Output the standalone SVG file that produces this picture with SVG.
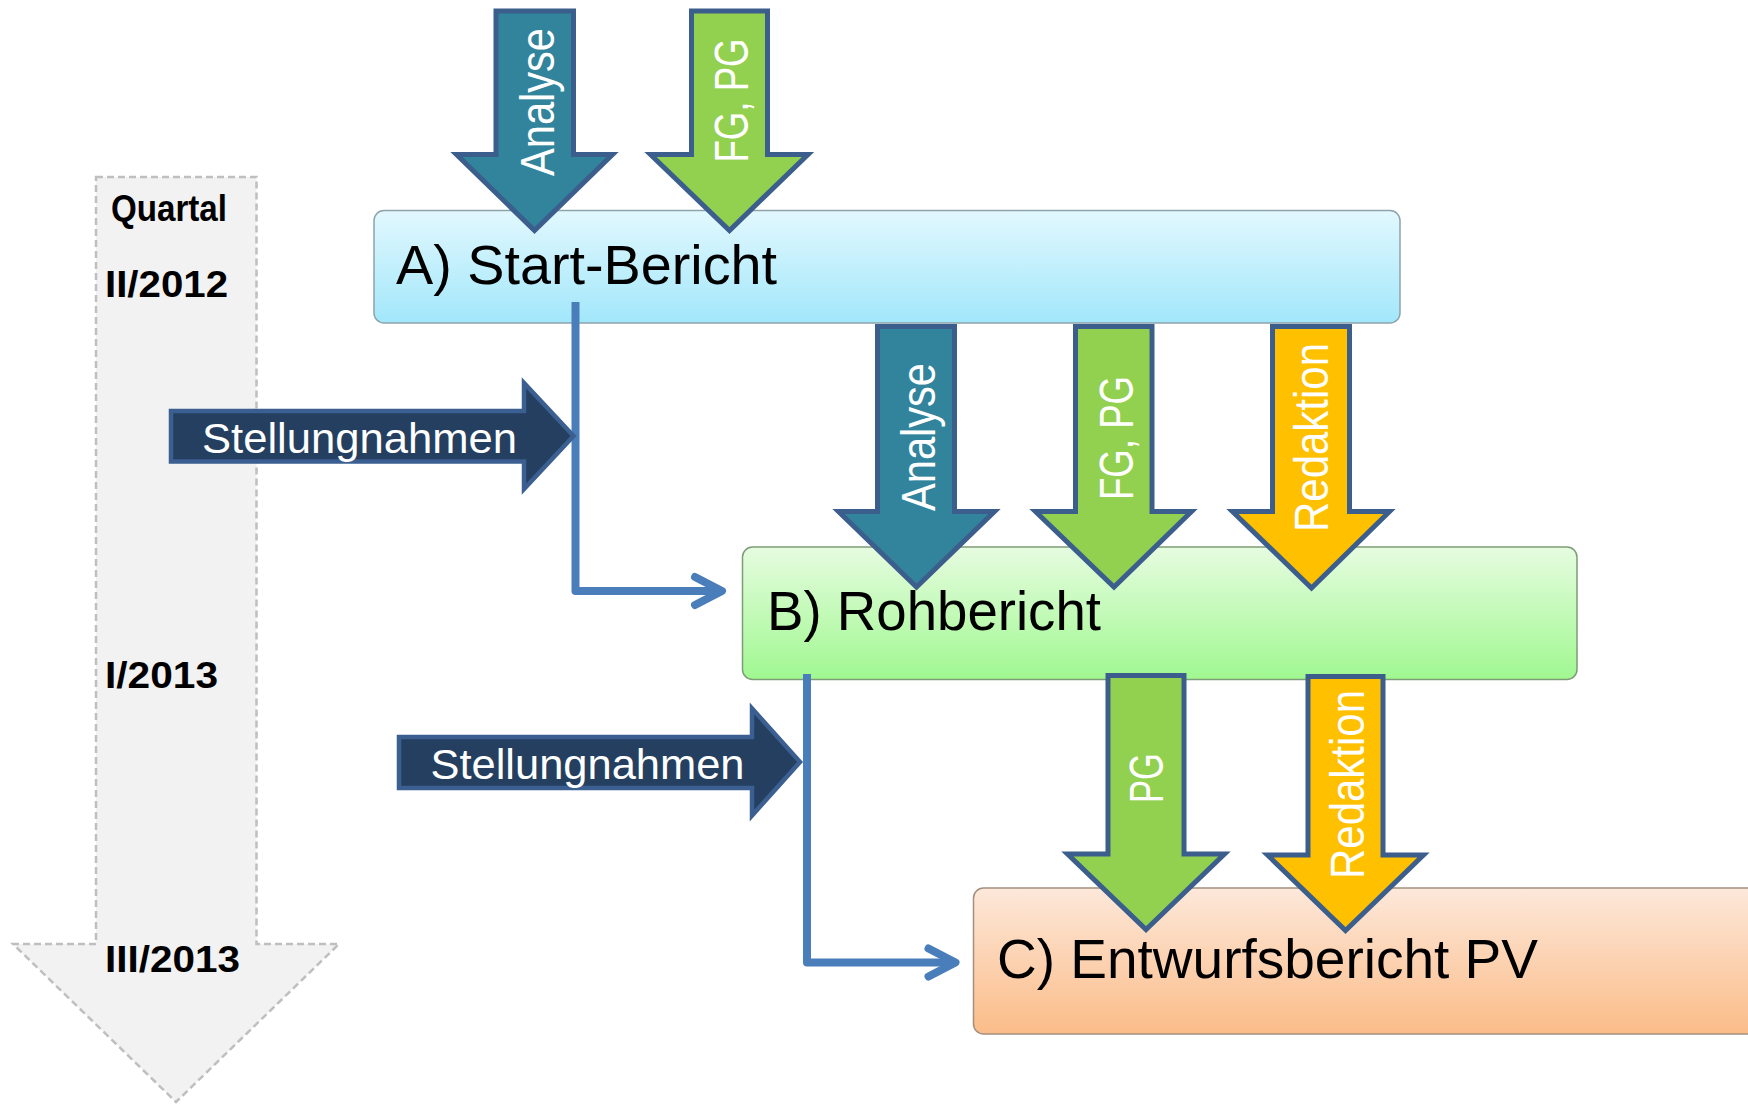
<svg xmlns="http://www.w3.org/2000/svg" width="1748" height="1104" viewBox="0 0 1748 1104">
  <defs>
    <linearGradient id="gA" x1="0" y1="0" x2="0" y2="1">
      <stop offset="0" stop-color="#e2f8fe"/>
      <stop offset="1" stop-color="#a2e7fb"/>
    </linearGradient>
    <linearGradient id="gB" x1="0" y1="0" x2="0" y2="1">
      <stop offset="0" stop-color="#e6fce0"/>
      <stop offset="1" stop-color="#a0f890"/>
    </linearGradient>
    <linearGradient id="gC" x1="0" y1="0" x2="0" y2="1">
      <stop offset="0" stop-color="#fde8da"/>
      <stop offset="1" stop-color="#fbbc88"/>
    </linearGradient>
    <marker id="chev" markerUnits="userSpaceOnUse" markerWidth="44" markerHeight="44" refX="33" refY="20" orient="auto" overflow="visible">
      <path d="M6,6 L33,20 L6,34" fill="none" stroke="#4a7ebb" stroke-width="8" stroke-linecap="round" stroke-linejoin="round"/>
    </marker>
  </defs>
  <style>
    .box { stroke-width: 1.5; }
    .title { font-family: "Liberation Sans", Arial, sans-serif; font-size: 55px; fill: #000; }
    .time { font-family: "Liberation Sans", Arial, sans-serif; font-weight: bold; font-size: 37px; fill: #000; }
    .arr { stroke: #3b5e8c; stroke-width: 5; stroke-linejoin: miter; }
    .teal { fill: #31849b; }
    .green { fill: #92d050; }
    .yellow { fill: #ffc000; }
    .navy { fill: #243f60; stroke: #3b5f90; stroke-width: 4.5; }
    .vlab { font-family: "Liberation Sans", Arial, sans-serif; font-size: 48px; fill: #fff; text-anchor: middle; }
    .slab { font-family: "Liberation Sans", Arial, sans-serif; font-size: 43px; fill: #fff; }
    .conn { fill: none; stroke: #4a7ebb; stroke-width: 8; stroke-linejoin: round; stroke-linecap: butt; }
  </style>

  <g id="timeline">
    <path d="M96,177 H256.5 V944 H339 L176,1102 L13,944 H96 Z" fill="#f2f2f2" stroke="#bfbfbf" stroke-width="2.5" stroke-dasharray="7,4"/>
    <text class="time" x="111" y="221" font-size="33" textLength="116" lengthAdjust="spacingAndGlyphs">Quartal</text>
    <text class="time" x="105" y="297" textLength="123" lengthAdjust="spacingAndGlyphs">II/2012</text>
    <text class="time" x="105" y="688" textLength="113" lengthAdjust="spacingAndGlyphs">I/2013</text>
    <text class="time" x="105" y="972" textLength="135" lengthAdjust="spacingAndGlyphs">III/2013</text>
  </g>

  <g id="boxA">
    <rect class="box" x="374" y="210.5" width="1026" height="112.5" rx="10" fill="url(#gA)" stroke="#8fa3ab"/>
    <text class="title" x="396" y="284" textLength="381" lengthAdjust="spacingAndGlyphs">A) Start-Bericht</text>
  </g>
  <g id="boxB">
    <rect class="box" x="742.5" y="547" width="834.5" height="132.5" rx="10" fill="url(#gB)" stroke="#7f9c78"/>
    <text class="title" x="767" y="630" textLength="334" lengthAdjust="spacingAndGlyphs">B) Rohbericht</text>
  </g>
  <g id="boxC">
    <rect class="box" x="973.5" y="888" width="800" height="146" rx="10" fill="url(#gC)" stroke="#a3907f"/>
    <text class="title" x="997" y="978" textLength="541" lengthAdjust="spacingAndGlyphs">C) Entwurfsbericht PV</text>
  </g>

  <g id="connectors">
    <path class="conn" d="M575.5,302 V591 H722" marker-end="url(#chev)"/>
    <path class="conn" d="M807,674 V962.5 H955.5" marker-end="url(#chev)"/>
  </g>

  <g id="stellung1">
    <path class="navy" d="M171,411 H524 V383 L573.5,436 L524,489 V461.5 H171 Z"/>
    <text class="slab" x="202" y="453" textLength="315" lengthAdjust="spacingAndGlyphs">Stellungnahmen</text>
  </g>
  <g id="stellung2">
    <path class="navy" d="M399,737 H752 V708.5 L800,762 L752,815.5 V788 H399 Z"/>
    <text class="slab" x="430.5" y="778.5" textLength="314" lengthAdjust="spacingAndGlyphs">Stellungnahmen</text>
  </g>

  <g id="topAnalyse">
    <path class="arr teal" d="M496,11 H573.5 V154.5 H612.5 L534.5,230.5 L456.5,154.5 H496 Z"/>
    <text class="vlab" transform="translate(554,102) rotate(-90)" textLength="148" lengthAdjust="spacingAndGlyphs">Analyse</text>
  </g>
  <g id="topFGPG">
    <path class="arr green" d="M691.5,11 H767.5 V154.5 H808 L729.5,230.5 L650.5,154.5 H691.5 Z"/>
    <text class="vlab" transform="translate(748,100.5) rotate(-90)" textLength="124" lengthAdjust="spacingAndGlyphs">FG, PG</text>
  </g>

  <g id="midAnalyse">
    <path class="arr teal" d="M877.5,326.5 H954.5 V511.5 H994.5 L916.5,587 L838.5,511.5 H877.5 Z"/>
    <text class="vlab" transform="translate(935,437) rotate(-90)" textLength="148" lengthAdjust="spacingAndGlyphs">Analyse</text>
  </g>
  <g id="midFGPG">
    <path class="arr green" d="M1075.5,326.5 H1152 V511.5 H1191.5 L1114,587 L1035.5,511.5 H1075.5 Z"/>
    <text class="vlab" transform="translate(1133,438) rotate(-90)" textLength="124" lengthAdjust="spacingAndGlyphs">FG, PG</text>
  </g>
  <g id="midRedaktion">
    <path class="arr yellow" d="M1272.5,326.5 H1349.5 V511.5 H1389.5 L1311.5,588 L1232.5,511.5 H1272.5 Z"/>
    <text class="vlab" transform="translate(1328,437.5) rotate(-90)" textLength="189" lengthAdjust="spacingAndGlyphs">Redaktion</text>
  </g>

  <g id="lowPG">
    <path class="arr green" d="M1108,675.5 H1184 V854 H1224.5 L1146,929.5 L1067.5,854 H1108 Z"/>
    <text class="vlab" transform="translate(1163,778) rotate(-90)" textLength="50" lengthAdjust="spacingAndGlyphs">PG</text>
  </g>
  <g id="lowRedaktion">
    <path class="arr yellow" d="M1308,676.5 H1383 V855 H1423.5 L1345.5,930.5 L1267.5,855 H1308 Z"/>
    <text class="vlab" transform="translate(1364,784.5) rotate(-90)" textLength="189" lengthAdjust="spacingAndGlyphs">Redaktion</text>
  </g>
</svg>
